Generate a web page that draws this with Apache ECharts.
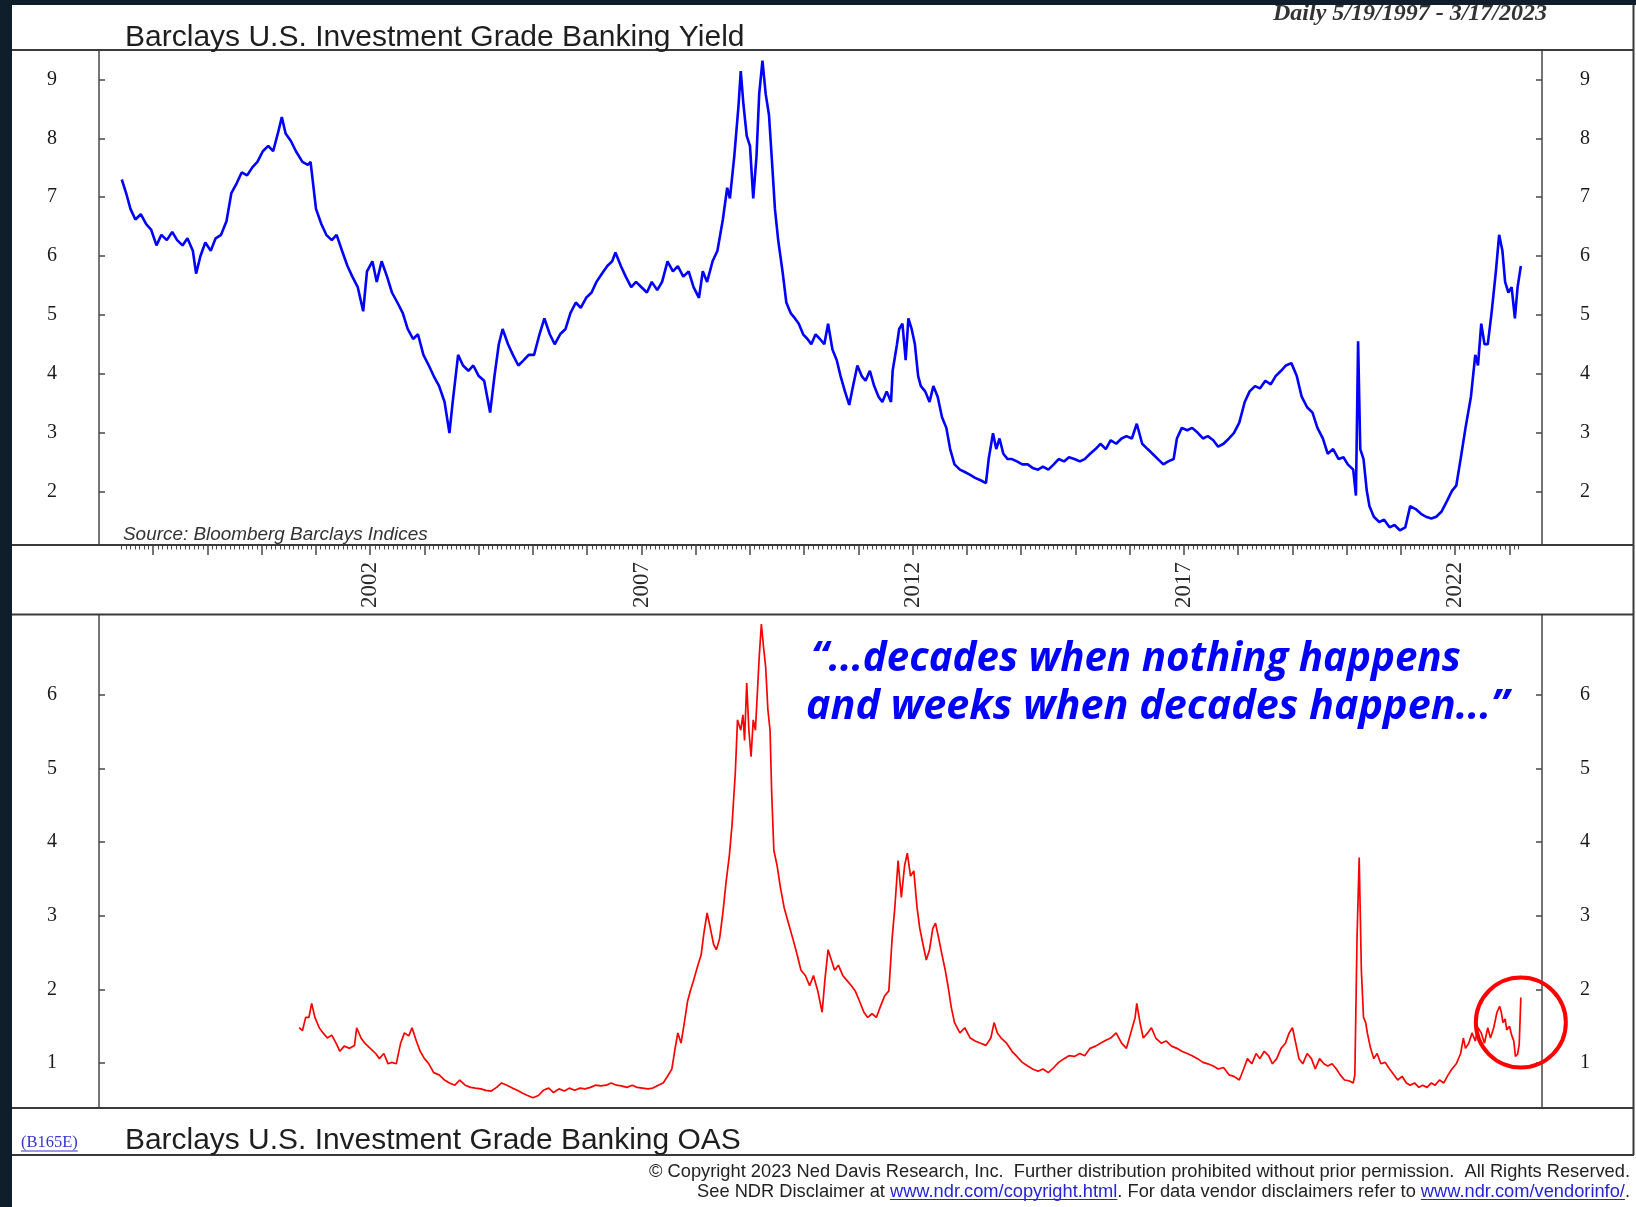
<!DOCTYPE html>
<html><head><meta charset="utf-8">
<script src="https://cdn.jsdelivr.net/npm/echarts@6/dist/echarts.min.js"></script>
<style>html,body{margin:0;padding:0;background:#0f1e2b;}#c{width:1636px;height:1207px;}</style>
</head><body><div id="c"></div>
<script>
// ---------- DATA ----------
const yieldDates = [1997.42,1997.50,1997.58,1997.67,1997.77,1997.87,1997.96,1998.06,1998.15,1998.25,1998.35,1998.44,1998.54,1998.63,1998.73,1998.79,1998.87,1998.96,1999.06,1999.15,1999.25,1999.35,1999.44,1999.54,1999.63,1999.73,1999.83,1999.92,2000.02,2000.12,2000.21,2000.31,2000.37,2000.44,2000.54,2000.63,2000.75,2000.85,2000.90,2001.00,2001.10,2001.19,2001.29,2001.38,2001.48,2001.58,2001.67,2001.77,2001.87,2001.94,2002.04,2002.12,2002.21,2002.31,2002.40,2002.50,2002.60,2002.69,2002.79,2002.88,2002.98,2003.08,2003.17,2003.27,2003.37,2003.46,2003.52,2003.62,2003.71,2003.81,2003.90,2004.00,2004.10,2004.21,2004.29,2004.37,2004.44,2004.54,2004.63,2004.73,2004.83,2004.92,2005.02,2005.12,2005.21,2005.31,2005.40,2005.50,2005.60,2005.69,2005.79,2005.88,2005.98,2006.08,2006.17,2006.27,2006.37,2006.46,2006.52,2006.62,2006.71,2006.81,2006.90,2007.00,2007.10,2007.19,2007.29,2007.38,2007.48,2007.58,2007.67,2007.77,2007.87,2007.96,2008.06,2008.13,2008.21,2008.31,2008.40,2008.50,2008.58,2008.63,2008.71,2008.79,2008.83,2008.88,2008.94,2009.00,2009.06,2009.12,2009.17,2009.23,2009.29,2009.35,2009.40,2009.46,2009.52,2009.60,2009.67,2009.75,2009.83,2009.90,2009.98,2010.06,2010.13,2010.21,2010.29,2010.37,2010.44,2010.52,2010.60,2010.67,2010.75,2010.83,2010.90,2010.98,2011.06,2011.13,2011.21,2011.29,2011.37,2011.44,2011.52,2011.60,2011.63,2011.71,2011.75,2011.81,2011.87,2011.92,2011.98,2012.04,2012.10,2012.15,2012.23,2012.31,2012.38,2012.46,2012.54,2012.62,2012.69,2012.77,2012.87,2012.96,2013.06,2013.15,2013.25,2013.35,2013.40,2013.48,2013.54,2013.60,2013.67,2013.75,2013.83,2013.92,2014.02,2014.12,2014.21,2014.31,2014.40,2014.50,2014.60,2014.69,2014.79,2014.88,2014.98,2015.08,2015.17,2015.27,2015.37,2015.46,2015.56,2015.65,2015.75,2015.85,2015.94,2016.04,2016.13,2016.23,2016.33,2016.42,2016.52,2016.62,2016.71,2016.81,2016.87,2016.96,2017.06,2017.15,2017.25,2017.35,2017.44,2017.54,2017.63,2017.73,2017.83,2017.92,2018.02,2018.12,2018.21,2018.31,2018.40,2018.50,2018.60,2018.69,2018.79,2018.88,2018.98,2019.08,2019.17,2019.27,2019.37,2019.46,2019.56,2019.65,2019.75,2019.85,2019.94,2020.02,2020.12,2020.17,2020.21,2020.25,2020.31,2020.37,2020.42,2020.50,2020.60,2020.69,2020.79,2020.88,2020.98,2021.08,2021.17,2021.27,2021.37,2021.46,2021.56,2021.65,2021.75,2021.85,2021.94,2022.02,2022.10,2022.19,2022.29,2022.37,2022.42,2022.48,2022.54,2022.60,2022.67,2022.75,2022.81,2022.87,2022.92,2022.98,2023.04,2023.10,2023.15,2023.21];
const yieldValues = [7.30,7.07,6.80,6.62,6.71,6.54,6.45,6.18,6.36,6.27,6.41,6.27,6.18,6.30,6.09,5.70,6.00,6.23,6.09,6.30,6.36,6.59,7.07,7.24,7.42,7.37,7.51,7.60,7.78,7.87,7.78,8.13,8.36,8.08,7.95,7.78,7.60,7.55,7.60,6.80,6.54,6.36,6.27,6.36,6.09,5.83,5.65,5.47,5.06,5.74,5.91,5.56,5.91,5.65,5.38,5.21,5.03,4.76,4.59,4.67,4.32,4.14,3.96,3.79,3.52,2.99,3.52,4.32,4.14,4.05,4.14,3.96,3.88,3.34,3.96,4.50,4.76,4.50,4.32,4.14,4.23,4.32,4.32,4.67,4.94,4.67,4.50,4.67,4.76,5.03,5.21,5.12,5.29,5.38,5.56,5.70,5.83,5.91,6.06,5.83,5.65,5.47,5.56,5.47,5.38,5.56,5.42,5.56,5.91,5.74,5.83,5.65,5.74,5.47,5.29,5.74,5.56,5.91,6.09,6.62,7.16,6.98,7.69,8.57,9.14,8.57,8.04,7.87,6.98,7.69,8.75,9.32,8.75,8.40,7.69,6.80,6.27,5.74,5.21,5.03,4.94,4.85,4.67,4.59,4.50,4.67,4.59,4.50,4.85,4.41,4.23,3.96,3.70,3.47,3.79,4.14,3.96,3.88,4.05,3.79,3.61,3.52,3.70,3.52,4.05,4.50,4.76,4.85,4.23,4.94,4.76,4.50,3.96,3.79,3.70,3.52,3.79,3.61,3.26,3.08,2.72,2.46,2.37,2.33,2.28,2.23,2.19,2.14,2.55,2.99,2.72,2.90,2.64,2.55,2.55,2.51,2.46,2.46,2.40,2.37,2.42,2.37,2.46,2.55,2.51,2.58,2.55,2.51,2.55,2.64,2.72,2.81,2.72,2.87,2.81,2.90,2.94,2.90,3.15,2.81,2.72,2.64,2.55,2.46,2.51,2.55,2.90,3.08,3.04,3.08,3.00,2.90,2.94,2.87,2.76,2.81,2.90,2.99,3.17,3.52,3.70,3.79,3.75,3.88,3.82,3.96,4.05,4.14,4.18,3.96,3.61,3.43,3.34,3.08,2.90,2.64,2.72,2.55,2.58,2.46,2.37,1.93,4.55,2.72,2.55,2.01,1.75,1.57,1.48,1.52,1.39,1.43,1.34,1.39,1.75,1.70,1.62,1.57,1.54,1.57,1.66,1.84,2.01,2.10,2.55,3.08,3.61,4.32,4.14,4.85,4.50,4.50,5.03,5.74,6.36,6.09,5.56,5.38,5.47,4.94,5.47,5.83];

const oasDates = [2000.69,2000.75,2000.81,2000.87,2000.92,2000.98,2001.06,2001.13,2001.21,2001.29,2001.37,2001.44,2001.52,2001.62,2001.71,2001.75,2001.83,2001.90,2002.00,2002.10,2002.17,2002.25,2002.33,2002.40,2002.48,2002.56,2002.63,2002.71,2002.77,2002.85,2002.92,2003.00,2003.08,2003.17,2003.27,2003.37,2003.46,2003.56,2003.65,2003.75,2003.85,2003.94,2004.04,2004.13,2004.23,2004.33,2004.42,2004.52,2004.62,2004.71,2004.81,2004.90,2005.00,2005.10,2005.19,2005.29,2005.38,2005.48,2005.58,2005.67,2005.77,2005.87,2005.96,2006.06,2006.15,2006.25,2006.35,2006.44,2006.54,2006.63,2006.73,2006.83,2006.92,2007.02,2007.12,2007.21,2007.31,2007.40,2007.48,2007.56,2007.62,2007.67,2007.73,2007.79,2007.85,2007.90,2007.96,2008.04,2008.10,2008.15,2008.21,2008.27,2008.33,2008.38,2008.44,2008.50,2008.56,2008.62,2008.67,2008.73,2008.77,2008.83,2008.87,2008.90,2008.94,2008.98,2009.02,2009.06,2009.10,2009.13,2009.17,2009.21,2009.25,2009.29,2009.33,2009.37,2009.40,2009.44,2009.50,2009.56,2009.63,2009.71,2009.79,2009.87,2009.94,2010.02,2010.10,2010.17,2010.25,2010.33,2010.38,2010.44,2010.50,2010.56,2010.63,2010.71,2010.79,2010.87,2010.94,2011.02,2011.10,2011.17,2011.25,2011.33,2011.40,2011.48,2011.56,2011.62,2011.67,2011.73,2011.79,2011.85,2011.90,2011.96,2012.02,2012.08,2012.13,2012.19,2012.25,2012.31,2012.37,2012.42,2012.48,2012.54,2012.60,2012.65,2012.71,2012.77,2012.87,2012.96,2013.06,2013.15,2013.25,2013.35,2013.44,2013.50,2013.56,2013.63,2013.73,2013.83,2013.92,2014.02,2014.12,2014.21,2014.31,2014.40,2014.50,2014.60,2014.69,2014.79,2014.88,2014.98,2015.08,2015.17,2015.27,2015.37,2015.46,2015.56,2015.65,2015.75,2015.85,2015.94,2016.02,2016.10,2016.13,2016.19,2016.25,2016.33,2016.40,2016.48,2016.58,2016.67,2016.77,2016.87,2016.96,2017.06,2017.15,2017.25,2017.35,2017.44,2017.54,2017.63,2017.73,2017.83,2017.92,2018.02,2018.10,2018.17,2018.25,2018.33,2018.40,2018.48,2018.56,2018.63,2018.71,2018.79,2018.87,2018.94,2019.00,2019.06,2019.12,2019.19,2019.27,2019.35,2019.42,2019.50,2019.58,2019.65,2019.73,2019.81,2019.88,2019.96,2020.04,2020.12,2020.15,2020.19,2020.23,2020.27,2020.31,2020.35,2020.38,2020.44,2020.50,2020.56,2020.63,2020.71,2020.79,2020.87,2020.94,2021.02,2021.10,2021.17,2021.25,2021.33,2021.40,2021.48,2021.56,2021.63,2021.71,2021.79,2021.87,2021.94,2022.02,2022.10,2022.15,2022.19,2022.25,2022.31,2022.37,2022.42,2022.48,2022.54,2022.60,2022.65,2022.71,2022.77,2022.82,2022.85,2022.88,2022.92,2022.95,2023.00,2023.04,2023.08,2023.11,2023.15,2023.18,2023.21];
const oasValues = [1.48,1.44,1.62,1.62,1.81,1.62,1.48,1.41,1.34,1.38,1.27,1.16,1.23,1.20,1.24,1.48,1.34,1.27,1.20,1.13,1.06,1.13,0.99,1.01,0.99,1.27,1.41,1.37,1.48,1.30,1.16,1.06,0.99,0.87,0.84,0.77,0.73,0.70,0.77,0.70,0.67,0.66,0.65,0.63,0.62,0.67,0.73,0.70,0.66,0.63,0.59,0.56,0.53,0.56,0.63,0.66,0.60,0.65,0.62,0.66,0.63,0.66,0.65,0.67,0.70,0.69,0.70,0.73,0.70,0.69,0.67,0.70,0.67,0.66,0.65,0.66,0.70,0.73,0.82,0.92,1.20,1.41,1.27,1.55,1.84,1.98,2.12,2.33,2.47,2.76,3.04,2.83,2.61,2.54,2.69,3.04,3.46,3.82,4.24,4.95,5.66,5.52,5.73,5.38,6.16,5.52,5.16,5.66,5.52,5.94,6.51,6.96,6.65,6.37,5.80,5.52,4.67,3.89,3.68,3.39,3.11,2.90,2.69,2.47,2.26,2.19,2.05,2.19,1.98,1.69,2.12,2.54,2.40,2.26,2.33,2.19,2.12,2.05,1.98,1.84,1.69,1.62,1.67,1.62,1.76,1.91,1.98,2.69,3.11,3.75,3.25,3.68,3.85,3.54,3.61,3.11,2.83,2.61,2.40,2.54,2.83,2.90,2.69,2.47,2.26,2.05,1.76,1.55,1.41,1.48,1.34,1.30,1.27,1.24,1.34,1.55,1.41,1.34,1.27,1.16,1.09,1.01,0.96,0.92,0.89,0.92,0.87,0.94,1.01,1.06,1.10,1.09,1.13,1.10,1.20,1.23,1.27,1.31,1.34,1.41,1.27,1.20,1.41,1.62,1.81,1.55,1.34,1.41,1.48,1.34,1.27,1.30,1.23,1.20,1.16,1.13,1.10,1.06,1.01,0.99,0.96,0.92,0.94,0.84,0.82,0.77,0.92,1.06,0.99,1.13,1.06,1.16,1.10,0.99,1.06,1.20,1.27,1.41,1.48,1.27,1.06,0.99,1.13,1.06,0.92,1.06,0.99,0.96,0.99,0.92,0.84,0.77,0.76,0.73,0.84,2.69,3.79,2.26,1.62,1.55,1.41,1.20,1.06,1.13,0.99,1.01,0.92,0.84,0.77,0.82,0.73,0.70,0.73,0.67,0.70,0.67,0.73,0.70,0.77,0.73,0.84,0.92,0.99,1.13,1.34,1.20,1.27,1.41,1.30,1.48,1.41,1.27,1.48,1.34,1.48,1.69,1.77,1.69,1.55,1.60,1.45,1.50,1.38,1.30,1.09,1.12,1.25,1.89];

const yieldTickLabels = [2,3,4,5,6,7,8,9];
const oasTickLabels = [1,2,3,4,5,6];
const yearTickLabels = [2002,2007,2012,2017,2022];
const yearTicks = [1998,1999,2000,2001,2002,2003,2004,2005,2006,2007,2008,2009,2010,2011,2012,2013,2014,2015,2016,2017,2018,2019,2020,2021,2022,2023];

// monthly minor tick positions over the span of the data (axis ticks, not data)
const monthTicks = [];
for (let y = 1997; y <= 2023; y++) for (let m = 1; m < 12; m++) {
  const v = y + m/12;
  if (v >= 1997.38 && v <= 2023.22) monthTicks.push(v);
}

// ---------- CHART ----------
const chart = echarts.init(document.getElementById('c'), null, {renderer:'canvas', width:1636, height:1207});
const serif = '"Liberation Serif","Times New Roman",serif';
const sans = '"Liberation Sans",Arial,sans-serif';
const AX = '#474747';

function yAx(grid, pos, min, max, labels, margin){
  return {gridIndex:grid, type:'value', position:pos, min:min, max:max, splitNumber:8,
    axisLine:{show:true, onZero:false, lineStyle:{color:AX, width:1.5}},
    axisTick:{show:true, inside:true, length:6, customValues:labels, lineStyle:{color:AX, width:1.5}},
    axisLabel:{show:true, margin:margin, align:'center', customValues:labels, fontFamily:serif, fontSize:20, color:'#1a1a1a',
      formatter: v => String(v)},
    splitLine:{show:false}};
}

const option = {
  backgroundColor:'#0f1e2b',
  animation:false,
  grid:[
    {left:99, top:50, width:1443, height:495, show:false},
    {left:99, top:614.6, width:1443, height:493.4, show:false}
  ],
  xAxis:[
    {gridIndex:0, type:'value', min:1997, max:2023.6, interval:1, position:'bottom',
      axisLine:{show:false},
      axisTick:{show:true, length:10, customValues:yearTicks, lineStyle:{color:AX, width:1.5}},
      axisLabel:{show:true, rotate:90, margin:17, customValues:yearTickLabels, fontFamily:serif, fontSize:23, color:'#2a2a2a',
        formatter: v => String(v)},
      splitLine:{show:false}},
    {gridIndex:1, type:'value', min:1997, max:2023.6, interval:1, show:false},
    {gridIndex:0, type:'value', min:1997, max:2023.6, interval:1, position:'bottom', offset:0,
      axisLine:{show:false},
      axisTick:{show:true, length:4.5, customValues:monthTicks, lineStyle:{color:'#4a4a4a', width:1}},
      axisLabel:{show:false}, splitLine:{show:false}}
  ],
  yAxis:[
    yAx(0,'left',1.09,9.5,yieldTickLabels,47),
    yAx(0,'right',1.09,9.5,yieldTickLabels,43),
    yAx(1,'left',0.39,7.09,oasTickLabels,47),
    yAx(1,'right',0.39,7.09,oasTickLabels,43)
  ],
  series:[
    {type:'line', xAxisIndex:0, yAxisIndex:0, showSymbol:false, symbol:'none', z:3,
      lineStyle:{color:'#0000ff', width:2.6}, data: yieldDates.map((d,i)=>[d, yieldValues[i]])},
    {type:'line', xAxisIndex:1, yAxisIndex:2, showSymbol:false, symbol:'none', z:3,
      lineStyle:{color:'#ff0000', width:1.7}, data: oasDates.map((d,i)=>[d, oasValues[i]])}
  ]
};
chart.setOption(option);

// ---------- decorations ----------
const cvs = document.createElement('canvas'); const ctx = cvs.getContext('2d');
function measure(text, size, family, weight, style){ ctx.font = (style||'normal')+' '+(weight||'normal')+' '+size+'px '+family; return ctx.measureText(text).width; }
function fit(text, target, family, weight, style){ return 20*target/measure(text,20,family,weight,style); }

function txt(id, text, x, y, size, family, color, opts){
  opts = opts || {};
  return {id:id, type:'text', z:20, style:{x:x, y:y, text:text, fontSize:size, fontFamily:family,
    fontWeight:opts.weight||'normal', fontStyle:opts.style||'normal', fill:color,
    textAlign:opts.align||'left', align:opts.align||'left', textVerticalAlign:'middle', verticalAlign:'middle'}};
}
function hline(id, y, x1, x2, w, c){ return {id:id, type:'line', z:15, shape:{x1:x1,y1:y,x2:x2,y2:y}, style:{stroke:c||'#3a3a3a', lineWidth:w||2}}; }

const els = [];
els.push({id:'paper', type:'rect', z:-10, shape:{x:12, y:5, width:1624, height:1202}, style:{fill:'#ffffff'}});
const t3 = 'Daily 5/19/1997 - 3/17/2023';
els.push(txt('daily', t3, 1547, 14, fit(t3,274,serif,'bold','italic'), serif, '#333', {weight:'bold', style:'italic', align:'right'}));
els.push({id:'topband', type:'rect', z:30, shape:{x:0,y:0,width:1636,height:5}, style:{fill:'#0f1e2b'}});
[50,545,614.6,1108,1155].forEach((y,i)=>els.push(hline('h'+i, y, 12, 1634, 2)));
els.push({id:'vr', type:'line', z:15, shape:{x1:1633.5,y1:5,x2:1633.5,y2:1155}, style:{stroke:'#3a3a3a', lineWidth:2}});
const t1 = 'Barclays U.S. Investment Grade Banking Yield';
els.push(txt('t1', t1, 125, 37.5, fit(t1,620,sans), sans, '#1e1e1e'));
const t2 = 'Barclays U.S. Investment Grade Banking OAS';
els.push(txt('t2', t2, 125, 1141, fit(t2,616,sans), sans, '#1e1e1e'));
const src = 'Source: Bloomberg Barclays Indices';
els.push(txt('src', src, 123, 535, fit(src,305,sans,'normal','italic'), sans, '#333', {style:'italic'}));
const code = '(B165E)';
const cs = 16.5; const cw = measure(code, cs, serif);
els.push(txt('code', code, 21, 1143, cs, serif, '#3535d0'));
els.push({id:'codeul', type:'line', z:20, shape:{x1:21,y1:1151,x2:21+cw,y2:1151}, style:{stroke:'#3535d0', lineWidth:1}});
const q1 = '\u201C...decades when nothing happens';
const q2 = 'and weeks when decades happen...\u201D';
const qf = '"Open Sans","Noto Sans",sans-serif';
els.push(txt('q1', q1, 811, 660, fit(q1, 650, qf, 'bold', 'italic'), qf, '#0000ff', {weight:'bold', style:'italic'}));
els.push(txt('q2', q2, 806, 707, fit(q2, 703, qf, 'bold', 'italic'), qf, '#0000ff', {weight:'bold', style:'italic'}));
const c1 = '\u00A9 Copyright 2023 Ned Davis Research, Inc.  Further distribution prohibited without prior permission.  All Rights Reserved.';
const fs = fit(c1, 982, sans);
els.push(txt('c1', c1, 1630, 1172, fs, sans, '#222', {align:'right'}));
const p1 = 'See NDR Disclaimer at ', l1 = 'www.ndr.com/copyright.html', p2 = '. For data vendor disclaimers refer to ', l2 = 'www.ndr.com/vendorinfo/', p3 = '.';
const full2 = p1+l1+p2+l2+p3;
const x0 = 1630 - measure(full2, fs, sans);
let xx = x0; const yy = 1191.5;
[[p1,'#222'],[l1,'#2323d8'],[p2,'#222'],[l2,'#2323d8'],[p3,'#222']].forEach((seg,i)=>{
  const w = measure(seg[0], fs, sans);
  els.push(txt('cs'+i, seg[0], xx, yy, fs, sans, seg[1]));
  if (seg[1] !== '#222') els.push({id:'ul'+i, type:'line', z:20, shape:{x1:xx,y1:yy+8,x2:xx+w,y2:yy+8}, style:{stroke:'#2323d8', lineWidth:1.2}});
  xx += w;
});
const cpt = chart.convertToPixel({xAxisIndex:1, yAxisIndex:2}, [2023.21, 1.55]);
els.push({id:'circ', type:'circle', z:25, shape:{cx:cpt[0], cy:cpt[1], r:45}, style:{fill:'none', stroke:'#ff0000', lineWidth:4}});

chart.setOption({graphic:{elements:els}});
</script>
</body></html>
